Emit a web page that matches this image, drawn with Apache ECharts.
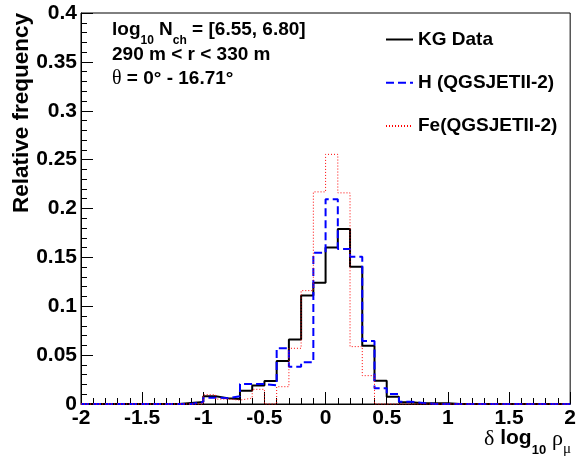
<!DOCTYPE html>
<html>
<head>
<meta charset="utf-8">
<script src="https://cdn.jsdelivr.net/npm/echarts@6/dist/echarts.min.js"></script>
<style>
html,body{margin:0;padding:0;background:#fff;}
#chart{width:579px;height:460px;}
</style>
</head>
<body>
<div id="chart"></div>
<script>
// Histogram binning: 40 bins of width 0.1 from -2 to 2
const xMin = -2;
const xMax = 2;
const nBins = 40;

// Relative frequency per bin (bin 0 = [-2.0,-1.9], bin 20 = [0.0,0.1])
const kgData = [
  0, 0, 0, 0, 0, 0, 0, 0, 0.001, 0.002,
  0.008, 0.006, 0.005, 0.0136, 0.019, 0.0235, 0.044, 0.066, 0.111, 0.124,
  0.160, 0.179, 0.1405, 0.0597, 0.0239, 0.0075, 0.0017, 0.0008, 0.0008, 0.0008,
  0, 0, 0, 0, 0, 0, 0, 0, 0, 0
];
const hQgs = [
  0, 0, 0, 0, 0, 0, 0, 0, 0, 0.002,
  0.0065, 0.006, 0.008, 0.0205, 0.0205, 0.019, 0.057, 0.038, 0.0426, 0.1548,
  0.2094, 0.1586, 0.1507, 0.0644, 0.016, 0.0102, 0.0024, 0.001, 0, 0,
  0, 0, 0, 0, 0, 0, 0, 0, 0, 0
];
const feQgs = [
  0, 0, 0, 0, 0, 0, 0, 0, 0, 0,
  0.0095, 0.005, 0.004, 0.006, 0.015, 0, 0.0177, 0.057, 0.116, 0.217,
  0.2554, 0.216, 0.0587, 0.029, 0, 0, 0, 0, 0, 0,
  0, 0, 0, 0, 0, 0, 0, 0, 0, 0
];
const seriesNames = ['KG Data', 'H (QGSJETII-2)', 'Fe(QGSJETII-2)'];

function stepData(vals) {
  const w = (xMax - xMin) / nBins;
  const out = [];
  for (let i = 0; i < vals.length; i++) out.push([xMin + i * w, vals[i]]);
  out.push([xMax, vals[vals.length - 1]]);
  return out;
}

const FONT = 'Liberation Sans, Arial, Helvetica, sans-serif';
const SERIF = 'Liberation Serif, Times New Roman, serif';

const chart = echarts.init(document.getElementById('chart'));
const mainTok = {fontFamily: FONT, fontWeight: 'bold', fontSize: 19, lineHeight: 24, verticalAlign: 'top', color: '#000'};
const subTok = {fontFamily: FONT, fontWeight: 'bold', fontSize: 12, lineHeight: 12, verticalAlign: 'top', padding: [15, 0, 0, 0], color: '#000'};
const greekTok = {fontFamily: SERIF, fontWeight: 'normal', fontSize: 20, lineHeight: 24, verticalAlign: 'top', color: '#000'};
const tMain = {fontFamily: FONT, fontWeight: 'bold', fontSize: 21, lineHeight: 26, verticalAlign: 'top', color: '#000'};
const tSub = {fontFamily: FONT, fontWeight: 'bold', fontSize: 13, lineHeight: 13, verticalAlign: 'top', padding: [16, 0, 0, 0], color: '#000'};
const tGreek = {fontFamily: SERIF, fontWeight: 'normal', fontSize: 22, lineHeight: 26, verticalAlign: 'top', color: '#000'};
const tGreekSub = {fontFamily: SERIF, fontWeight: 'normal', fontSize: 15, lineHeight: 13, verticalAlign: 'top', padding: [14, 0, 0, 0], color: '#000'};

chart.setOption({
  animation: false,
  backgroundColor: '#fff',
  grid: {left: 81, right: 7, top: 13, bottom: 56, show: true, borderColor: '#000', borderWidth: 1, containLabel: false},
  xAxis: {
    type: 'value', min: xMin, max: xMax, interval: 0.5,
    axisLine: {show: true, onZero: false, lineStyle: {color: '#000', width: 1}},
    axisTick: {show: true, inside: true, length: 12, lineStyle: {color: '#000', width: 1}},
    minorTick: {show: true, splitNumber: 5, length: 6, lineStyle: {color: '#000', width: 1}},
    splitLine: {show: false},
    axisLabel: {color: '#000', fontFamily: FONT, fontWeight: 'bold', fontSize: 21, margin: 4}
  },
  yAxis: {
    type: 'value', min: 0, max: 0.4, interval: 0.05,
    axisLine: {show: true, onZero: false, lineStyle: {color: '#000', width: 1}},
    axisTick: {show: true, inside: true, length: 12, lineStyle: {color: '#000', width: 1}},
    minorTick: {show: true, splitNumber: 5, length: 6, lineStyle: {color: '#000', width: 1}},
    splitLine: {show: false},
    axisLabel: {color: '#000', fontFamily: FONT, fontWeight: 'bold', fontSize: 21, margin: 4}
  },
  legend: {
    orient: 'vertical', left: 380, top: 25,
    itemWidth: 27, itemHeight: 18, itemGap: 24.3, itemTextGap: 6,
    itemStyle: {opacity: 0},
    textStyle: {color: '#000', fontFamily: FONT, fontWeight: 'bold', fontSize: 19, lineHeight: 18},
    data: seriesNames
  },
  series: [
    {name: seriesNames[0], type: 'line', step: 'end', symbol: 'none', clip: false, z: 3,
     lineStyle: {color: '#000', width: 2}, itemStyle: {color: '#000'}, data: stepData(kgData)},
    {name: seriesNames[1], type: 'line', step: 'end', symbol: 'none', clip: false, z: 4,
     lineStyle: {color: '#0000ff', width: 2, type: [8, 4]}, itemStyle: {color: '#0000ff'}, data: stepData(hQgs)},
    {name: seriesNames[2], type: 'line', step: 'end', symbol: 'none', clip: false, z: 5,
     lineStyle: {color: '#ff0000', width: 1, type: [1, 2]}, itemStyle: {color: '#ff0000'}, data: stepData(feQgs)}
  ],
  graphic: [
    {type: 'text', left: 112, top: 20, style: {
      text: '{m|log}{s|10}{m| N}{s|ch}{m| = [6.55, 6.80]}',
      rich: {m: mainTok, s: subTok}}},
    {type: 'text', left: 112, top: 45, style: {
      text: '{m|290 m < r < 330 m}', rich: {m: mainTok}}},
    {type: 'text', left: 112, top: 69, style: {
      text: '{g|θ}{m| = 0° - 16.71°}', rich: {m: mainTok, g: greekTok}}},
    {type: 'text', x: 22, y: 13, rotation: Math.PI / 2, style: {
      text: 'Relative frequency', fill: '#000', font: 'bold 22.5px ' + FONT,
      textAlign: 'right', textVerticalAlign: 'middle'}},
    {type: 'text', right: 8, top: 428, style: {
      text: '{g|δ}{m| log}{s|10}{m| }{g|ρ}{gs|μ}',
      rich: {m: tMain, s: tSub, g: tGreek, gs: tGreekSub}}}
  ]
});
</script>
</body>
</html>
